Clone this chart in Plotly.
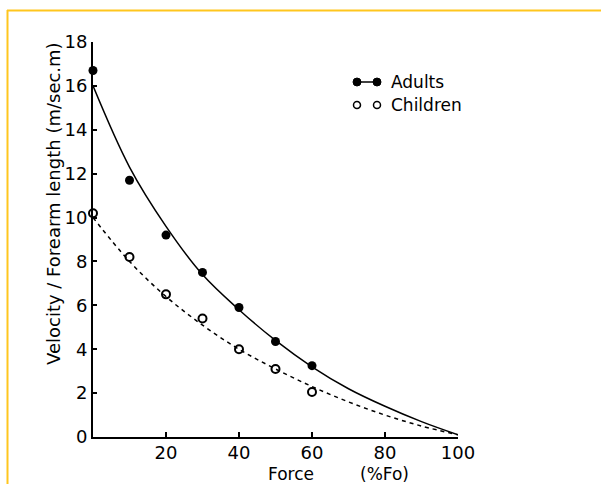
import plotly.graph_objects as go

# Measured data points
force = [0, 10, 20, 30, 40, 50, 60]
adults = [16.7, 11.7, 9.2, 7.5, 5.9, 4.35, 3.25]
children = [10.2, 8.2, 6.5, 5.4, 4.0, 3.1, 2.05]

# Fitted curves
fit_force = [0, 10, 20, 30, 40, 50, 60, 70, 80, 90, 100]
adults_fit = [16.0, 12.3, 9.6, 7.4, 5.8, 4.4, 3.2, 2.2, 1.4, 0.7, 0.1]
children_fit = [10.0, 8.0, 6.4, 5.1, 4.0, 3.1, 2.3, 1.6, 1.0, 0.5, 0.1]

x_ticks = [20, 40, 60, 80, 100]
y_ticks = [0, 2, 4, 6, 8, 10, 12, 14, 16, 18]

FONT = "DejaVu Sans"
L, R, T, B = 93, 143, 42, 47
W, H = 601, 484
PW, PH = W - L - R, H - T - B


def px(x):
    return (x - L) / PW


def py(y):
    return (H - B - y) / PH


fig = go.Figure()
fig.add_trace(go.Scatter(x=fit_force, y=adults_fit, mode="lines", line_shape="spline",
                         line=dict(color="black", width=1.5), showlegend=False, hoverinfo="skip"))
fig.add_trace(go.Scatter(x=fit_force, y=children_fit, mode="lines", line_shape="spline",
                         line=dict(color="black", width=1.5, dash="4px,4px"), showlegend=False,
                         hoverinfo="skip"))
fig.add_trace(go.Scatter(x=force, y=adults, mode="markers", name="Adults", cliponaxis=False,
                         marker=dict(symbol="circle", size=9, color="black"), showlegend=False))
fig.add_trace(go.Scatter(x=force, y=children, mode="markers", name="Children", cliponaxis=False,
                         marker=dict(symbol="circle-open", size=8, color="black",
                                     line=dict(width=2)), showlegend=False))

shapes = []
# yellow frame
yellow = "#FFC61E"
shapes.append(dict(type="line", xref="paper", yref="paper", x0=px(7), x1=px(601), y0=py(10.5), y1=py(10.5),
                   line=dict(color=yellow, width=2)))
shapes.append(dict(type="line", xref="paper", yref="paper", x0=px(7.5), x1=px(7.5), y0=py(10), y1=py(484),
                   line=dict(color=yellow, width=2)))
# custom legend symbols
shapes.append(dict(type="line", xref="paper", yref="paper", x0=px(357), x1=px(377), y0=py(82), y1=py(82),
                   line=dict(color="black", width=1.5)))
for cx in (357, 377):
    shapes.append(dict(type="circle", xref="paper", yref="paper", x0=px(cx - 4), x1=px(cx + 4),
                       y0=py(82 - 4), y1=py(82 + 4), fillcolor="black", line=dict(color="black", width=1)))
    shapes.append(dict(type="circle", xref="paper", yref="paper", x0=px(cx - 3.5), x1=px(cx + 3.5),
                       y0=py(105 - 3.5), y1=py(105 + 3.5), fillcolor="white",
                       line=dict(color="black", width=1.5)))

annotations = [
    dict(text="Adults", x=px(389), y=py(82), xref="paper", yref="paper", xanchor="left", yanchor="middle",
         showarrow=False, font=dict(family=FONT, size=17, color="black")),
    dict(text="Children", x=px(389), y=py(105), xref="paper", yref="paper", xanchor="left",
         yanchor="middle", showarrow=False, font=dict(family=FONT, size=17, color="black")),
    dict(text="Force", x=px(266), y=py(474), xref="paper", yref="paper", xanchor="left", yanchor="middle",
         showarrow=False, font=dict(family=FONT, size=17, color="black")),
    dict(text="(%Fo)", x=px(358), y=py(474), xref="paper", yref="paper", xanchor="left", yanchor="middle",
         showarrow=False, font=dict(family=FONT, size=17, color="black")),
    dict(text="Velocity / Forearm length (m/sec.m)", x=px(53), y=py(204), xref="paper", yref="paper",
         xanchor="center", yanchor="middle", textangle=-90, showarrow=False,
         font=dict(family=FONT, size=18, color="black")),
]

fig.update_layout(
    width=W, height=H,
    margin=dict(l=L, r=R, t=T, b=B, pad=0),
    paper_bgcolor="white", plot_bgcolor="white",
    shapes=shapes, annotations=annotations,
    showlegend=False,
    xaxis=dict(range=[0, 100], tickvals=x_ticks, ticktext=[str(v) for v in x_ticks],
               ticks="inside", ticklen=5, tickwidth=1.5, tickcolor="black",
               showline=True, linecolor="black", linewidth=2, showgrid=False, zeroline=False,
               ticklabelstandoff=-2,
               tickfont=dict(family=FONT, size=18, color="black")),
    yaxis=dict(range=[0, 18], tickvals=y_ticks, ticktext=[str(v) for v in y_ticks],
               ticks="inside", ticklen=4, tickwidth=1.5, tickcolor="black",
               showline=True, linecolor="black", linewidth=2, showgrid=False, zeroline=False,
               tickfont=dict(family=FONT, size=18, color="black")),
)

fig.write_html("out.html", config={"displayModeBar": False},
               post_script="document.body.style.margin='0';document.body.style.overflow='hidden';")
